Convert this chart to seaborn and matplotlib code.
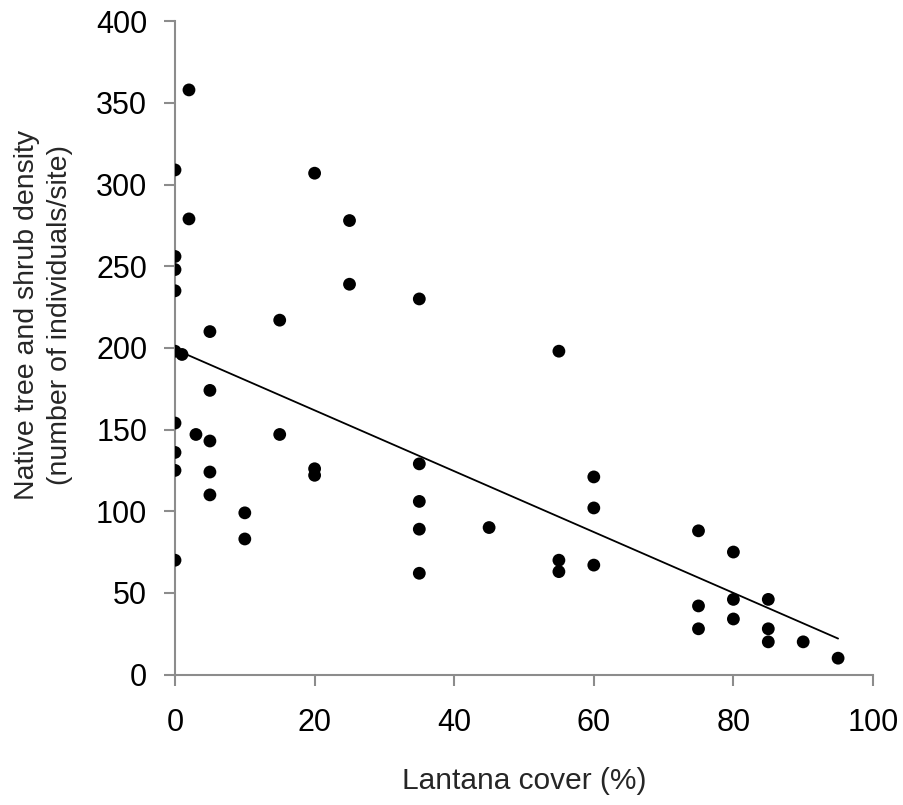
import pandas as pd
import matplotlib
matplotlib.use("Agg")
import matplotlib.pyplot as plt
import seaborn as sns

# Values
lantana_cover = [2, 0, 2, 0, 0, 0,
                 5, 0, 1, 5, 0, 3, 5, 0, 0, 5, 5, 10, 10, 0,
                 20, 25, 25, 35, 15, 15, 20, 20, 35, 35, 35, 45, 35,
                 55, 60, 60, 75, 80, 55, 55, 60, 75, 80, 85, 80, 75, 85, 85, 90, 95]
native_density = [358, 309, 279, 256, 248, 235,
                  210, 198, 196, 174, 154, 147, 143, 136, 125, 124, 110, 99, 83, 70,
                  307, 278, 239, 230, 217, 147, 126, 122, 129, 106, 89, 90, 62,
                  198, 121, 102, 88, 75, 70, 63, 67, 42, 46, 46, 34, 28, 28, 20, 20, 10]

x_ticks = [0, 20, 40, 60, 80, 100]
y_ticks = [0, 50, 100, 150, 200, 250, 300, 350, 400]

df = pd.DataFrame({"cover": lantana_cover, "density": native_density})

sns.set_style("ticks")
plt.rcParams["font.family"] = ["Liberation Sans", "DejaVu Sans"]

fig = plt.figure(figsize=(9.04, 8.05), dpi=100)
ax = fig.add_axes([0.1936, 0.1621, 0.7721, 0.8114])

# Linear trendline over the data range
sns.regplot(data=df, x="cover", y="density", ax=ax, ci=None, scatter=False,
            truncate=True, line_kws={"color": "black", "linewidth": 1.3})
sns.scatterplot(data=df, x="cover", y="density", ax=ax, color="black",
                s=85, edgecolor="none", zorder=3)

ax.set_xlim(0, 100)
ax.set_ylim(0, 400)
ax.set_xticks(x_ticks)
ax.set_yticks(y_ticks)

gray = "#8c8c8c"
for side in ["left", "bottom"]:
    ax.spines[side].set_color(gray)
    ax.spines[side].set_linewidth(1.5)
    ax.spines[side].set_zorder(1)
for side in ["top", "right"]:
    ax.spines[side].set_visible(False)

ax.tick_params(axis="both", colors=gray, labelcolor="black", labelsize=22,
               length=8, width=1.5, direction="out")
ax.tick_params(axis="x", pad=16)
ax.tick_params(axis="y", pad=12)

ax.set_xlabel("Lantana cover (%)", fontsize=21.5, labelpad=21)
ax.set_ylabel("Native tree and shrub density\n(number of individuals/site)",
              fontsize=20.5, linespacing=1.35)
ax.yaxis.set_label_coords(-0.146, 0.55)

fig.savefig("out.png", dpi=100)
